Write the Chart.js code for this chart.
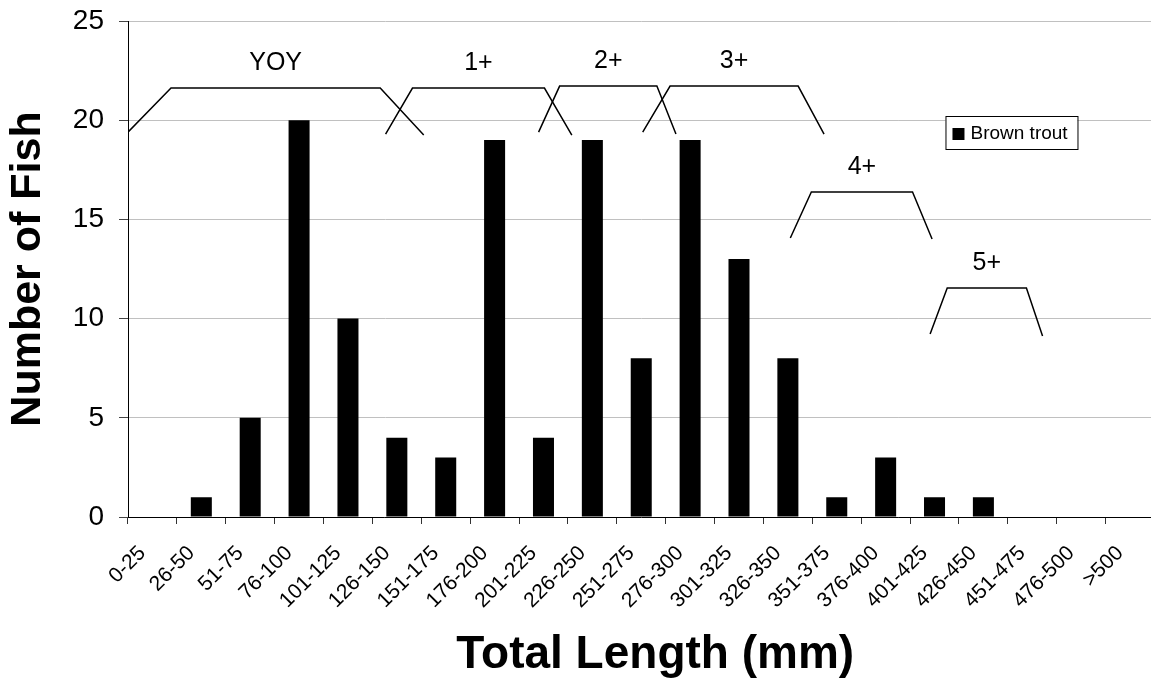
<!DOCTYPE html>
<html>
<head>
<meta charset="utf-8">
<script src="https://cdn.jsdelivr.net/npm/chart.js@4.4.1/dist/chart.umd.min.js"></script>
<style>
  html, body { margin: 0; padding: 0; background: #fff; overflow: hidden; }
  #wrap { width: 1165px; height: 678px; }
</style>
</head>
<body>
<div id="wrap"><canvas id="myChart" width="1165" height="678"></canvas></div>
<script>
// length classes (mm) and fish counts
let lengthClasses = ["0-25", "26-50", "51-75", "76-100", "101-125", "126-150", "151-175",
  "176-200", "201-225", "226-250", "251-275", "276-300", "301-325", "326-350",
  "351-375", "376-400", "401-425", "426-450", "451-475", "476-500", ">500"];
let brownTrout = [0, 1, 5, 20, 10, 4, 3, 19, 4, 19, 8, 19, 13, 8, 1, 3, 1, 1, 0, 0, 0];
let yTicks = [0, 5, 10, 15, 20, 25];

// age class brackets, in category index / count units
let ageNames = ["YOY", "1+", "2+", "3+", "4+", "5+"];
let ageX = [
  [-0.52, 0.38, 4.66, 5.55],
  [4.77, 5.32, 8.02, 8.58],
  [7.90, 8.33, 10.32, 10.71],
  [10.03, 10.59, 13.21, 13.74],
  [13.05, 13.48, 15.55, 15.95],
  [15.91, 16.26, 17.88, 18.21],
];
let ageTop = [21.62, 21.62, 21.72, 21.72, 16.38, 11.54];
let ageFoot = [
  [19.35, 19.25],
  [19.30, 19.25],
  [19.40, 19.30],
  [19.40, 19.30],
  [14.06, 14.01],
  [9.22, 9.12],
];

const FONT = "'Liberation Sans', Arial, sans-serif";
const X_TITLE = "Total Length (mm)";

//draws the age brackets, the x title and the boxed legend
let extras = {
  id: "extras",
  afterDatasetsDraw(chart) {
    let ctx = chart.ctx;
    let xs = chart.scales.x;
    let ys = chart.scales.y;
    let area = chart.chartArea;
    ctx.save();
    ctx.beginPath();
    ctx.rect(area.left, area.top - 30, area.right - area.left, area.bottom - area.top + 30);
    ctx.clip();
    ctx.strokeStyle = "#000";
    ctx.lineWidth = 1.5;
    ctx.fillStyle = "#000";
    ctx.font = "25px " + FONT;
    ctx.textAlign = "center";
    ctx.textBaseline = "middle";
    for (let i = 0; i < ageNames.length; i++) {
      let px = ageX[i].map(v => xs.getPixelForValue(v));
      let top = ys.getPixelForValue(ageTop[i]);
      ctx.beginPath();
      ctx.moveTo(px[0], ys.getPixelForValue(ageFoot[i][0]));
      ctx.lineTo(px[1], top);
      ctx.lineTo(px[2], top);
      ctx.lineTo(px[3], ys.getPixelForValue(ageFoot[i][1]));
      ctx.stroke();
      ctx.fillText(ageNames[i], (px[1] + px[2]) / 2, top - 25);
    }
    ctx.restore();

    // x axis title, centred a little right of the plot centre like the original
    ctx.save();
    ctx.fillStyle = "#000";
    ctx.font = "bold 46px " + FONT;
    ctx.textAlign = "center";
    ctx.textBaseline = "alphabetic";
    ctx.fillText(X_TITLE, (area.left + area.right) / 2 + 14, xs.bottom - 10);
    ctx.restore();

    // legend box
    let ds = chart.data.datasets[0];
    let lx = area.right - 209;
    let ly = area.top + 95;
    ctx.save();
    ctx.fillStyle = "#fff";
    ctx.fillRect(lx, ly, 132, 33);
    ctx.strokeStyle = "#000";
    ctx.lineWidth = 1;
    ctx.strokeRect(lx + 0.5, ly + 0.5, 132, 33);
    ctx.fillStyle = ds.backgroundColor;
    ctx.fillRect(lx + 7, ly + 12, 12, 12);
    ctx.font = "19px " + FONT;
    ctx.textAlign = "left";
    ctx.textBaseline = "middle";
    ctx.fillText(ds.label, lx + 25, ly + 18);
    ctx.restore();
  }
};

let ctx = document.getElementById("myChart").getContext("2d");
let myChart = new Chart(ctx, {
  type: "bar",
  data: {
    labels: lengthClasses,
    datasets: [
      {
        label: "Brown trout",
        data: brownTrout,
        backgroundColor: "#000",
        borderColor: "#000",
        borderWidth: 0,
        barPercentage: 0.43,
        categoryPercentage: 1.0,
      },
    ],
  },
  options: {
    responsive: false,
    animation: false,
    layout: { padding: { top: 21, right: 6, left: 0, bottom: 0 } },
    plugins: {
      legend: { display: false },
      tooltip: { enabled: false },
    },
    scales: {
      x: {
        afterFit: (scale) => { scale.height = 161; },
        grid: {
          display: true,
          drawOnChartArea: false,
          tickLength: 7,
          tickColor: "#333",
        },
        border: { color: "#000", width: 1 },
        ticks: {
          autoSkip: false,
          minRotation: 45,
          maxRotation: 45,
          labelOffset: -10,
          padding: 17,
          color: "#000",
          font: { family: FONT, size: 21 },
        },
      },
      y: {
        min: 0,
        max: 25,
        afterFit: (scale) => { scale.width = 128; },
        afterBuildTicks: (scale) => { scale.ticks = yTicks.map(v => ({ value: v })); },
        grid: {
          color: "#c0c0c0",
          tickColor: "#444",
          tickLength: 9,
        },
        border: { color: "#000", width: 1 },
        ticks: {
          padding: 15,
          color: "#000",
          font: { family: FONT, size: 28, lineHeight: 0.4 },
        },
        title: {
          display: true,
          text: "Number of Fish",
          color: "#000",
          padding: { top: 2, bottom: 0 },
          font: { family: FONT, size: 43, weight: "bold" },
        },
      },
    },
  },
  plugins: [extras],
});
</script>
</body>
</html>
